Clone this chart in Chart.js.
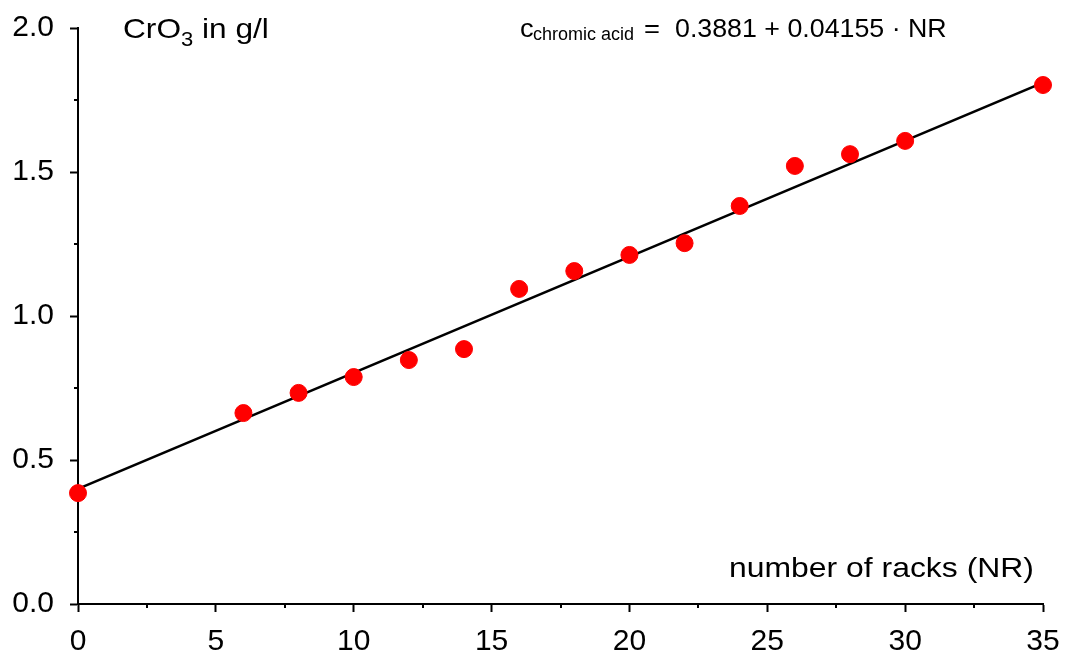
<!DOCTYPE html>
<html>
<head>
<meta charset="utf-8">
<script src="https://cdn.jsdelivr.net/npm/chart.js@4/dist/chart.umd.min.js"></script>
<style>
  body { margin: 0; background: #fff; }
  #c { display: block; }
</style>
</head>
<body>
<canvas id="c" width="1070" height="656"></canvas>
<script>
// measured values (number of racks vs CrO3 in g/l)
var racks = [0, 6, 8, 10, 12, 14, 16, 18, 20, 22, 24, 26, 28, 30, 35];
var cro3 = [0.385, 0.663, 0.733, 0.788, 0.847, 0.885, 1.094, 1.156, 1.212, 1.253, 1.382, 1.521, 1.562, 1.608, 1.802];

// regression line as drawn
var fitX = [0, 35];
var fitY = [0.40, 1.81];

var xTicks = [0, 5, 10, 15, 20, 25, 30, 35];
var yTicks = [0.0, 0.5, 1.0, 1.5, 2.0];
var xMinor = [2.5, 7.5, 12.5, 17.5, 22.5, 27.5, 32.5];
var yMinor = [0.25, 0.75, 1.25, 1.75];

var FONT = '"Liberation Sans", Arial, sans-serif';

var points = racks.map(function(x, i) { return { x: x, y: cro3[i] }; });
var fit = fitX.map(function(x, i) { return { x: x, y: fitY[i] }; });

// text slightly wider than the font's own proportions, like the original
function wideText(ctx, txt, x, y, sx) {
    ctx.save();
    ctx.translate(x, y);
    ctx.scale(sx, 1);
    ctx.fillText(txt, 0, 0);
    var w = ctx.measureText(txt).width * sx;
    ctx.restore();
    return w;
}

var extras = {
    id: 'extras',
    afterDraw: function(chart) {
        var ctx = chart.ctx;
        var xs = chart.scales.x, ys = chart.scales.y;
        var ca = chart.chartArea;
        ctx.save();
        ctx.strokeStyle = '#000';
        ctx.lineWidth = 2;
        xMinor.forEach(function(v) {
            var px = Math.round(xs.getPixelForValue(v));
            ctx.beginPath();
            ctx.moveTo(px, ca.bottom);
            ctx.lineTo(px, ca.bottom + 4);
            ctx.stroke();
        });
        yMinor.forEach(function(v) {
            var py = Math.round(ys.getPixelForValue(v));
            ctx.beginPath();
            ctx.moveTo(ca.left - 4, py);
            ctx.lineTo(ca.left, py);
            ctx.stroke();
        });

        ctx.fillStyle = '#000';
        ctx.textBaseline = 'alphabetic';
        ctx.textAlign = 'left';
        // y axis title
        var x = 123;
        ctx.font = '28px ' + FONT;
        x += wideText(ctx, 'CrO', x, 38, 1.13);
        ctx.font = '20px ' + FONT;
        x += wideText(ctx, '3', x, 46, 1.1);
        ctx.font = '28px ' + FONT;
        wideText(ctx, ' in g/l', x, 38, 1.13);

        // equation
        ctx.font = '26px ' + FONT;
        wideText(ctx, 'c', 520, 37, 1.05);
        ctx.font = '18px ' + FONT;
        wideText(ctx, 'chromic acid', 533, 40, 1.0);
        ctx.font = '26px ' + FONT;
        wideText(ctx, '=', 644, 37, 1.05);
        wideText(ctx, '0.3881 + 0.04155 \u00b7 NR', 675, 37, 1.03);

        // x axis title
        ctx.font = '28px ' + FONT;
        ctx.textAlign = 'right';
        wideText(ctx, 'number of racks (NR)', 1034, 577, 1.14);
        ctx.restore();
    }
};

new Chart(document.getElementById('c'), {
    type: 'scatter',
    data: {
        datasets: [
            {
                label: 'measured',
                data: points,
                clip: false,
                pointRadius: 8.5,
                pointBackgroundColor: '#ff0000',
                pointBorderColor: '#ff0000',
                pointBorderWidth: 1,
                showLine: false
            },
            {
                label: 'fit',
                data: fit,
                showLine: true,
                pointRadius: 0,
                borderColor: '#000',
                borderWidth: 2.4
            }
        ]
    },
    options: {
        responsive: false,
        animation: false,
        layout: { padding: { top: 28, right: 27, left: 0, bottom: 0 } },
        plugins: {
            legend: { display: false },
            tooltip: { enabled: false }
        },
        scales: {
            x: {
                type: 'linear',
                min: 0,
                max: 35,
                afterBuildTicks: function(scale) {
                    scale.ticks = xTicks.map(function(v) { return { value: v }; });
                },
                afterFit: function(scale) {
                    scale.height = 52;
                    scale.paddingLeft = 0;
                    scale.paddingRight = 0;
                },
                border: { display: true, color: '#000', width: 2 },
                grid: { display: true, drawOnChartArea: false, drawTicks: true, tickLength: 8, tickColor: '#000', tickWidth: 2 },
                ticks: {
                    color: '#000',
                    padding: 12,
                    maxRotation: 0,
                    font: { family: FONT, size: 30 },
                    callback: function(v) { return String(v); }
                }
            },
            y: {
                type: 'linear',
                min: 0,
                max: 2,
                afterBuildTicks: function(scale) {
                    scale.ticks = yTicks.map(function(v) { return { value: v }; });
                },
                afterFit: function(scale) {
                    scale.width = 78;
                    scale.paddingTop = 0;
                    scale.paddingBottom = 0;
                },
                border: { display: true, color: '#000', width: 2 },
                grid: { display: true, drawOnChartArea: false, drawTicks: true, tickLength: 8, tickColor: '#000', tickWidth: 2 },
                ticks: {
                    color: '#000',
                    padding: 16,
                    font: { family: FONT, size: 30 },
                    callback: function(v) { return Number(v).toFixed(1); }
                }
            }
        }
    },
    plugins: [extras]
});
</script>
</body>
</html>
